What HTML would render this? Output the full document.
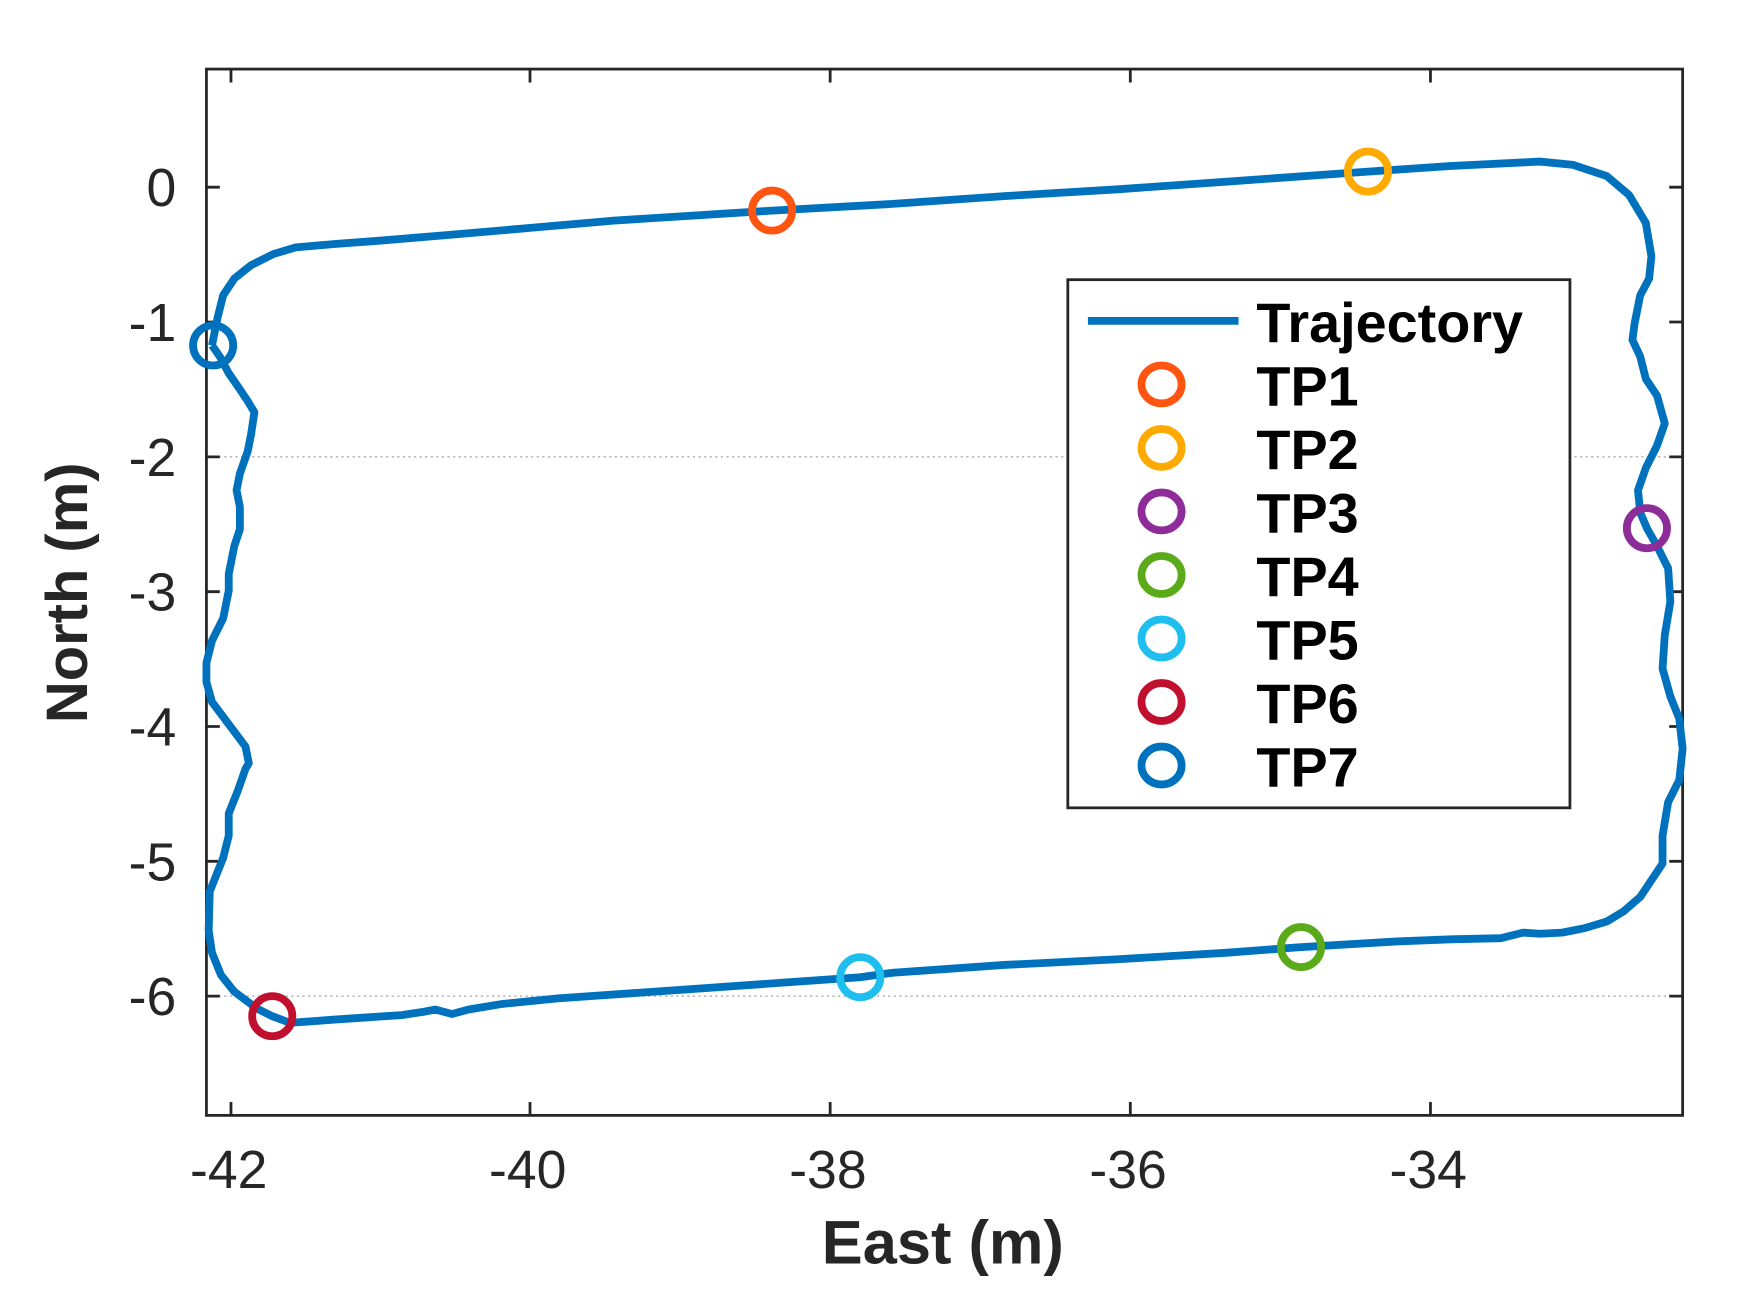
<!DOCTYPE html>
<html><head><meta charset="utf-8"><style>html,body{margin:0;padding:0;background:#fff}svg{display:block}</style></head>
<body>
<svg width="1744" height="1297" viewBox="0 0 1563 1164" preserveAspectRatio="none" xmlns="http://www.w3.org/2000/svg" font-family="Liberation Sans, Arial, sans-serif">
<rect width="1563" height="1164" fill="#fff"/>
<g stroke="#bbb" stroke-width="1.5" stroke-dasharray="2,3">
<line x1="186" y1="410" x2="1507" y2="410"/>
<line x1="186" y1="894" x2="1507" y2="894"/>
</g>
<g stroke="#262626" stroke-width="2.5" fill="none">
<rect x="185" y="62" width="1323" height="939"/>
<path d="M207 62v12M475 62v12M744 62v12M1013 62v12M1282 62v12M207 1001v-12M475 1001v-12M744 1001v-12M1013 1001v-12M1282 1001v-12"/>
<path d="M185 168h12M185 289h12M185 410h12M185 531h12M185 652h12M185 773h12M185 894h12M1508 168h-12M1508 289h-12M1508 410h-12M1508 531h-12M1508 652h-12M1508 773h-12M1508 894h-12"/>
</g>
<g fill="#262626" font-size="48" text-anchor="middle">
<text x="205" y="1066">-42</text><text x="473" y="1066">-40</text><text x="742" y="1066">-38</text><text x="1011" y="1066">-36</text><text x="1280" y="1066">-34</text>
</g>
<g fill="#262626" font-size="48" text-anchor="end">
<text x="158" y="185">0</text><text x="158" y="306">-1</text><text x="158" y="427">-2</text><text x="158" y="548">-3</text><text x="158" y="669">-4</text><text x="158" y="790">-5</text><text x="158" y="911">-6</text>
</g>
<text x="845" y="1134" font-size="55" font-weight="bold" fill="#262626" text-anchor="middle">East (m)</text>
<text transform="translate(78,532) rotate(-90)" font-size="52" font-weight="bold" fill="#262626" text-anchor="middle">North (m)</text>
<path fill="none" stroke="#0072BD" stroke-width="7" stroke-linejoin="round" d="M190 310 L195 285 200 265 210 250 225 238 245 228 265 222 300 219 340 216 400 211 470 205 550 198 692 189 800 183 900 176 1000 170 1100 163 1226 154 1300 149 1380 145 1410 148 1440 158 1460 175 1475 200 1480 230 1478 250 1470 265 1465 290 1463 305 1470 320 1475 340 1485 355 1492 380 1485 400 1475 420 1468 440 1470 460 1476 474 1485 490 1495 510 1497 540 1492 570 1490 600 1497 625 1505 645 1508 672 1505 700 1495 720 1490 750 1490 775 1480 790 1470 805 1455 818 1440 827 1420 833 1400 837 1380 838 1365 837 1345 842 1300 843 1250 845 1166 850 1100 855 1000 861 900 866 800 873 771 877 700 882 600 889 500 896 450 901 420 906 405 910 390 906 380 908 360 911 330 913 300 915 260 918 244 912 230 905 210 890 198 875 190 855 187 835 188 800 200 770 205 750 205 730 213 710 220 690 223 685 220 670 205 650 190 630 185 612 185 595 190 575 200 555 205 530 205 515 210 490 215 475 215 455 212 440 215 425 222 405 225 390 228 370 222 360 214 348 205 335 197 320 190 310"/>
<g fill="none" stroke-width="7">
<ellipse cx="692" cy="189" rx="18" ry="18" stroke="#FF5511"/>
<ellipse cx="1226" cy="154" rx="18" ry="18" stroke="#FFAA00"/>
<ellipse cx="1476" cy="474" rx="18" ry="18" stroke="#8E2C9A"/>
<ellipse cx="1166" cy="850" rx="18" ry="18" stroke="#5AAA1A"/>
<ellipse cx="771" cy="877" rx="18" ry="18" stroke="#1EBFEF"/>
<ellipse cx="244" cy="912" rx="18" ry="18" stroke="#C0102E"/>
<ellipse cx="191" cy="310" rx="18" ry="18" stroke="#0072BD"/>
</g>
<rect x="957" y="251" width="450" height="474" fill="#fff" stroke="#262626" stroke-width="2.5"/>
<line x1="975" y1="288" x2="1110" y2="288" stroke="#0072BD" stroke-width="7"/>
<g fill="none" stroke-width="7">
<ellipse cx="1041" cy="345" rx="18" ry="17" stroke="#FF5511"/>
<ellipse cx="1041" cy="402" rx="18" ry="17" stroke="#FFAA00"/>
<ellipse cx="1041" cy="459" rx="18" ry="17" stroke="#8E2C9A"/>
<ellipse cx="1041" cy="516" rx="18" ry="17" stroke="#5AAA1A"/>
<ellipse cx="1041" cy="573" rx="18" ry="17" stroke="#1EBFEF"/>
<ellipse cx="1041" cy="630" rx="18" ry="17" stroke="#C0102E"/>
<ellipse cx="1041" cy="687" rx="18" ry="17" stroke="#0072BD"/>
</g>
<g fill="#000" font-size="50" font-weight="bold">
<text x="1126" y="307">Trajectory</text>
<text x="1126" y="364">TP1</text><text x="1126" y="421">TP2</text><text x="1126" y="478">TP3</text><text x="1126" y="535">TP4</text><text x="1126" y="592">TP5</text><text x="1126" y="649">TP6</text><text x="1126" y="706">TP7</text>
</g>
</svg>
</body></html>
